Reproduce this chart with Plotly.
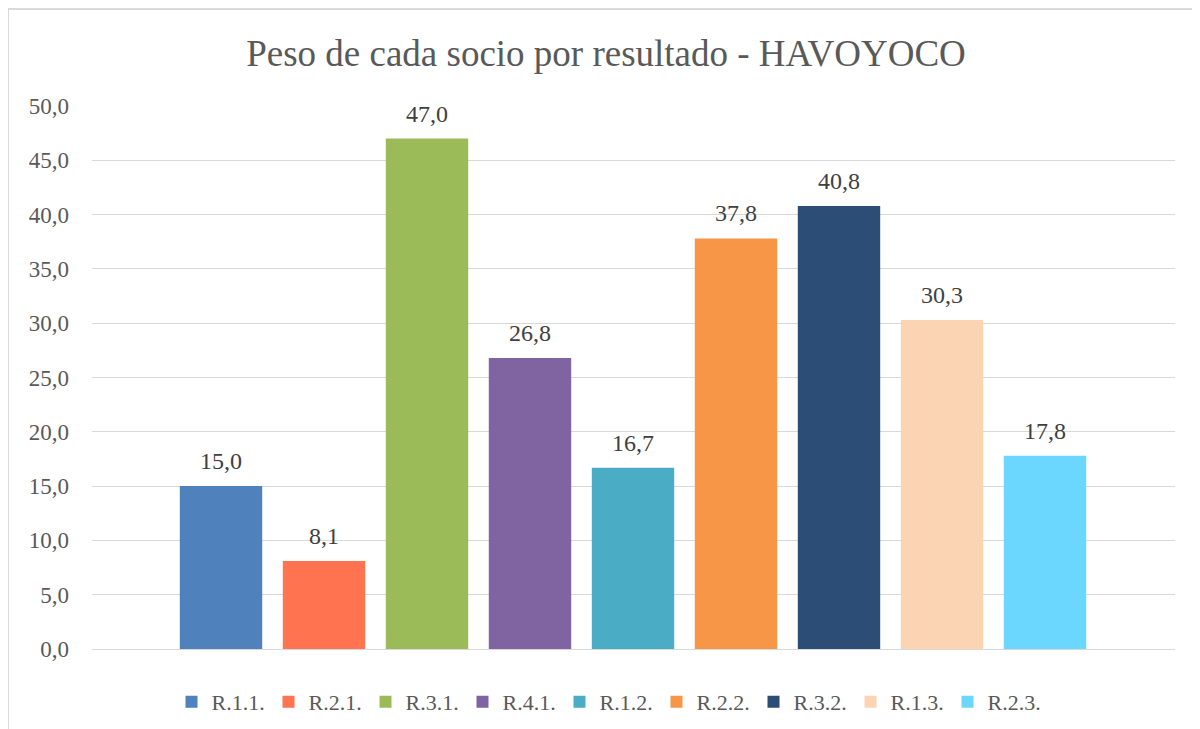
import plotly.graph_objects as go

series = ["R.1.1.", "R.2.1.", "R.3.1.", "R.4.1.", "R.1.2.", "R.2.2.", "R.3.2.", "R.1.3.", "R.2.3."]
values = [15.0, 8.1, 47.0, 26.8, 16.7, 37.8, 40.8, 30.3, 17.8]
colors = ["#4F81BD", "#FF7350", "#9BBB59", "#8064A2", "#4BACC6", "#F79646", "#2C4D75", "#FBD4B4", "#6BD7FF"]
title = "Peso de cada socio por resultado - HAVOYOCO"
yticks = [0, 5, 10, 15, 20, 25, 30, 35, 40, 45, 50]

FONT = "Liberation Serif"
OFF = 8  # page body margin

W, H = 1200, 729
# plot area in screen pixels
SX0, SX1, SY0, SY1 = 92, 1175, 106, 649
L, T = SX0 - OFF, SY0 - OFF
R, B = W - (SX1 - OFF), H - (SY1 - OFF)
pw, ph = W - L - R, H - T - B

def px(x):
    return (x - OFF - L) / pw

def py(y):
    return (H - B - (y - OFF)) / ph

fig = go.Figure()
for name, v, c in zip(series, values, colors):
    fig.add_trace(go.Bar(
        x=[name], y=[v], name=name, marker=dict(color=c, line=dict(width=0)),
        hovertemplate="%{x}: %{y:.1f}<extra></extra>",
    ))
    fig.add_annotation(
        x=name, y=v, xref="x", yref="y", text=f"{v:.1f}".replace(".", ","),
        showarrow=False, yanchor="bottom", yshift=10,
        font=dict(family=FONT, size=24, color="#404040"),
    )

# category spacing 103 px, first bar centre at 221 px
step = 103
first = (221 - SX0) / step
span = (SX1 - SX0) / step

fig.update_layout(
    width=W, height=H,
    margin=dict(l=L, r=R, t=T, b=B, autoexpand=False),
    paper_bgcolor="white", plot_bgcolor="white",
    separators=",.",
    barmode="overlay", bargap=0.2,
    title=dict(text=title, x=(606 - OFF) / W, xanchor="center", y=1 - (53 - OFF) / H, yanchor="middle",
               font=dict(family=FONT, size=37, color="#595959")),
    font=dict(family=FONT, color="#595959"),
    xaxis=dict(showticklabels=False, showgrid=False, zeroline=False, showline=False, ticks="",
               categoryorder="array", categoryarray=series, range=[-first, span - first]),
    yaxis=dict(range=[0, 50], tickvals=yticks, tickformat=".1f", showgrid=True, gridcolor="#D9D9D9",
               gridwidth=1, zeroline=True, zerolinecolor="#D9D9D9", zerolinewidth=1,
               tickfont=dict(family=FONT, size=23, color="#595959"), ticklabelstandoff=22),
    legend=dict(orientation="h", x=px(608), xanchor="center", y=py(702), yanchor="middle",
                font=dict(family=FONT, size=22, color="#595959"),
                entrywidth=52, entrywidthmode="pixels", itemwidth=30, traceorder="normal"),
    shapes=[
        dict(type="line", xref="paper", yref="paper", x0=px(8), x1=px(8), y0=py(9), y1=py(740),
             line=dict(color="#D9D9D9", width=2)),
        dict(type="line", xref="paper", yref="paper", x0=px(8), x1=px(1210), y0=py(9), y1=py(9),
             line=dict(color="#D9D9D9", width=2)),
    ],
)

fig.write_html("out.html")
